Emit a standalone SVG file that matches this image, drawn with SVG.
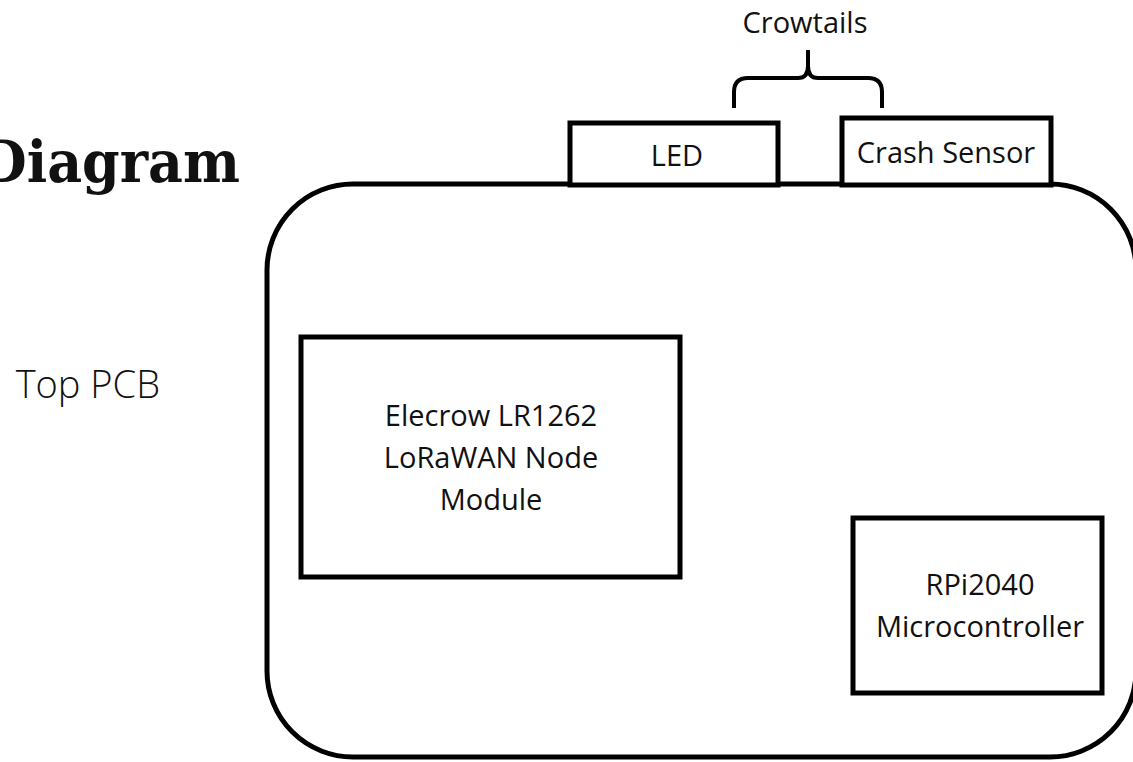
<svg xmlns="http://www.w3.org/2000/svg" width="1133" height="762" viewBox="0 0 1133 762">
<style>
.box{fill:#fff;stroke:#000;stroke-width:5}
.lbl{font-family:"Open Sans","Noto Sans",sans-serif;font-size:29px;fill:#111;text-anchor:middle}
</style>
<rect width="1133" height="762" fill="#fff"/>
<text x="-20" y="182" font-family="DejaVu Serif,serif" font-weight="bold" font-size="58" textLength="260" lengthAdjust="spacingAndGlyphs" fill="#111">Diagram</text>
<text x="160" y="398" font-family="Open Sans,sans-serif" font-weight="300" font-size="38" text-anchor="end" fill="#111">Top PCB</text>
<g id="board"><rect class="box" x="267" y="184" width="869" height="573" rx="86" ry="86"/></g>
<g id="led"><rect class="box" x="570" y="123" width="208" height="62"/><text class="lbl" x="677" y="166">LED</text></g>
<g id="crash"><rect class="box" x="842" y="118" width="209" height="67"/><text class="lbl" x="946" y="163">Crash Sensor</text></g>
<g id="crowtails">
<text class="lbl" x="805" y="33">Crowtails</text>
<path d="M734,108 V92 Q734,78 748,78 H798 Q808,78 808,66 V50 M808,66 Q808,78 818,78 H868 Q882,78 882,92 V108" fill="none" stroke="#000" stroke-width="4"/>
</g>
<g id="lora"><rect class="box" x="301" y="337" width="379" height="240"/>
<text class="lbl" x="491" y="426">Elecrow LR1262</text><text class="lbl" x="491" y="468">LoRaWAN Node</text><text class="lbl" x="491" y="510">Module</text></g>
<g id="rpi"><rect class="box" x="853" y="518" width="249" height="175"/>
<text class="lbl" x="980" y="595">RPi2040</text><text class="lbl" x="980" y="637">Microcontroller</text></g>
</svg>
